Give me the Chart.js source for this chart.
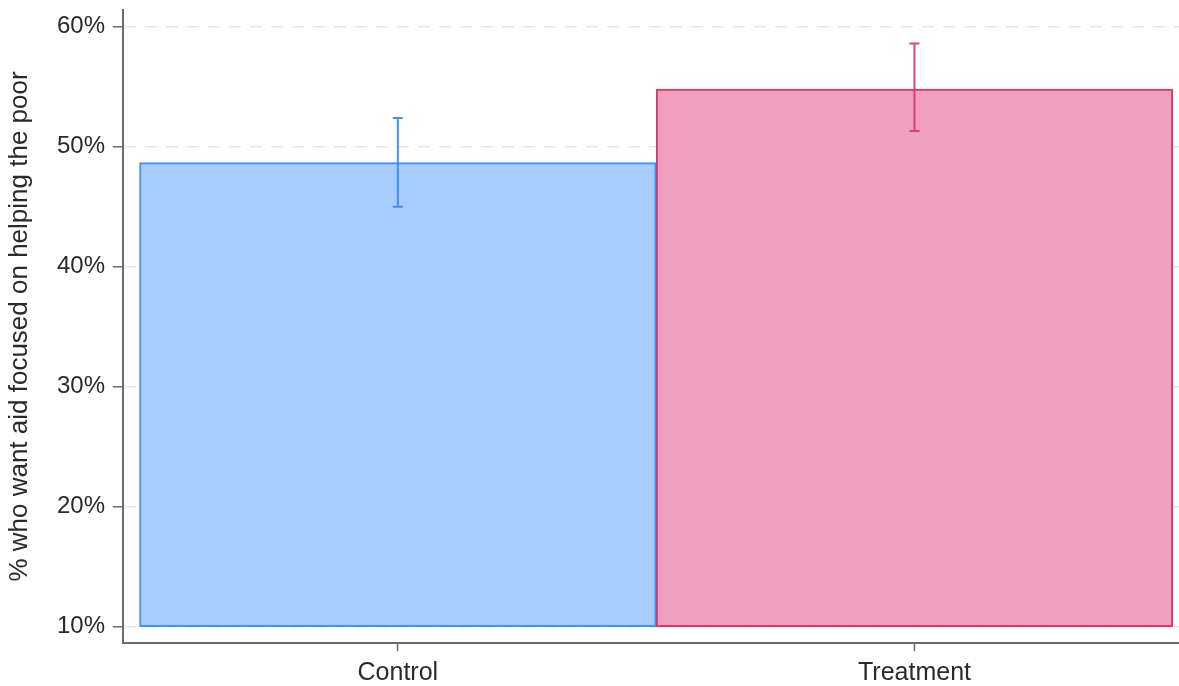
<!DOCTYPE html>
<html>
<head>
<meta charset="utf-8">
<script src="https://cdn.jsdelivr.net/npm/chart.js@4/dist/chart.umd.min.js"></script>
<style>
  html, body { margin: 0; padding: 0; background: #ffffff; }
  #wrap { width: 1179px; height: 686px; position: relative; }
</style>
</head>
<body>
<div id="wrap"><canvas id="chart"></canvas></div>
<script>
// Share of respondents who want aid focused on helping the poor, by group
const categories = ['Control', 'Treatment'];
const shareValues = [48.67, 54.8];   // bar heights, %
const ciLow = [45.0, 51.3];          // lower end of error bar, %
const ciHigh = [52.4, 58.6];         // upper end of error bar, %
const yTickValues = [10, 20, 30, 40, 50, 60];
const barBase = 10;

const fillColors = ['#a6cdfd', '#f0a0bc'];
const edgeColors = ['#4293f3', '#d9366f'];
const whiskerColors = ['rgba(60,140,240,0.95)', 'rgba(214,51,108,0.9)'];

const axisColor = '#6b6b6b';
const textColor = '#2a2a2a';
const fontFamily = '"Liberation Sans", Arial, Helvetica, sans-serif';

// Error bars drawn on top of the bars, in data units through the scales
const errorBars = {
  id: 'errorBars',
  afterDatasetsDraw(chart) {
    const ctx = chart.ctx;
    const xs = chart.scales.x, ys = chart.scales.y;
    ctx.save();
    categories.forEach((c, i) => {
      const x = xs.getPixelForValue(i);
      const yLo = ys.getPixelForValue(ciLow[i]);
      const yHi = ys.getPixelForValue(ciHigh[i]);
      const cap = 5;
      ctx.strokeStyle = whiskerColors[i];
      ctx.lineWidth = 2;
      ctx.beginPath();
      ctx.moveTo(x, yLo); ctx.lineTo(x, yHi);
      ctx.moveTo(x - cap, yLo); ctx.lineTo(x + cap, yLo);
      ctx.moveTo(x - cap, yHi); ctx.lineTo(x + cap, yHi);
      ctx.stroke();
    });
    ctx.restore();
  }
};

new Chart(document.getElementById('chart'), {
  type: 'bar',
  data: {
    datasets: [{
      data: categories.map((c, i) => ({ x: i, y: [barBase, shareValues[i]] })),
      backgroundColor: fillColors,
      borderColor: edgeColors,
      borderWidth: 2,
      borderSkipped: false,
      barPercentage: 1,
      categoryPercentage: 1
    }]
  },
  options: {
    responsive: true,
    maintainAspectRatio: false,
    animation: false,
    layout: { padding: { top: 10, right: 0, bottom: 0, left: 0 } },
    plugins: {
      legend: { display: false },
      tooltip: { enabled: false }
    },
    scales: {
      x: {
        type: 'linear',
        offset: false,
        min: -0.532,
        max: 1.512,
        afterBuildTicks(scale) { scale.ticks = categories.map((c, i) => ({ value: i })); },
        afterFit(scale) { scale.height = 43; scale.paddingLeft = 0; scale.paddingRight = 0; },
        ticks: {
          autoSkip: false,
          maxRotation: 0,
          padding: 7,
          color: textColor,
          font: { family: fontFamily, size: 25 },
          callback: (v, i) => categories[i]
        },
        grid: {
          offset: false,
          drawOnChartArea: false,
          drawTicks: true,
          tickLength: 8,
          tickColor: axisColor,
          tickWidth: 1.5
        },
        border: { display: true, color: axisColor, width: 2 }
      },
      y: {
        type: 'linear',
        min: 8.64,
        max: 61.39,
        afterBuildTicks(scale) { scale.ticks = yTickValues.map(v => ({ value: v })); },
        afterFit(scale) { scale.width = 123; scale.paddingTop = 0; scale.paddingBottom = 0; },
        ticks: {
          padding: 8,
          color: textColor,
          font: { family: fontFamily, size: 24 },
          callback: v => v + '%'
        },
        grid: {
          drawOnChartArea: true,
          color: '#e6e6e6',
          lineWidth: 1.5,
          tickLength: 10,
          tickColor: axisColor,
          tickWidth: 1.5,
          tickBorderDash: []
        },
        border: { display: true, color: axisColor, width: 2, dash: [12, 9] },
        title: {
          display: true,
          text: '% who want aid focused on helping the poor',
          color: textColor,
          font: { family: fontFamily, size: 26 },
          padding: { top: 4, bottom: 0 }
        }
      }
    }
  },
  plugins: [errorBars]
});
</script>
</body>
</html>
